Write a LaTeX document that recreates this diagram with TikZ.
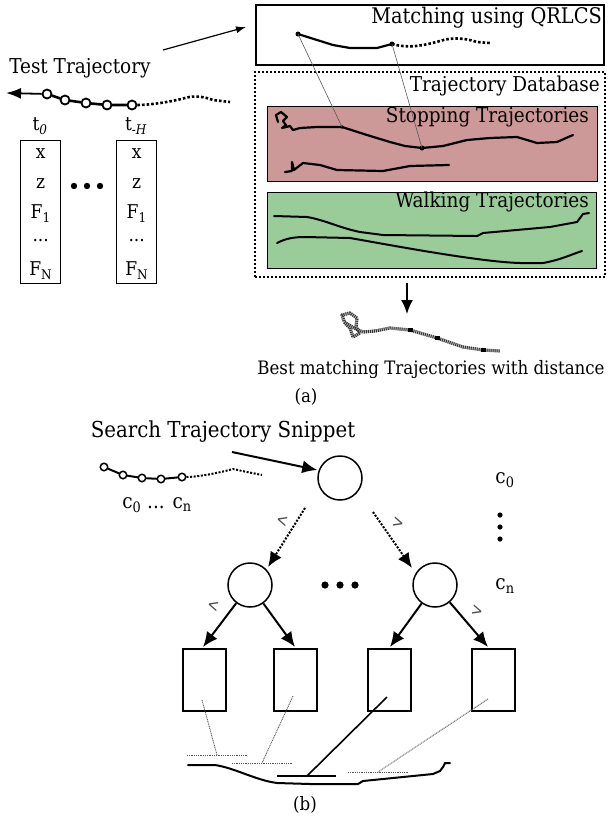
\documentclass[tikz,border=0pt]{standalone}
\usepackage{fontspec}
\setmainfont{DejaVu Serif Condensed}
\usetikzlibrary{arrows.meta,calc}
\definecolor{stoppink}{RGB}{205,152,152}
\definecolor{walkgreen}{RGB}{153,204,153}
\begin{document}
\begin{tikzpicture}[x=1pt,y=-1pt,
  font=\fontsize{20.5}{24}\selectfont,
  traj/.style={line width=2.2pt, line join=round, line cap=round},
  dottraj/.style={line width=2.6pt, dash pattern=on 2.6pt off 2pt},
  tpt/.style={circle, draw, line width=1.8pt, inner sep=0pt, minimum size=9pt, fill=white},
  spt/.style={circle, draw, line width=1.5pt, inner sep=0pt, minimum size=7.5pt, fill=white},
  featbox/.style={draw, line width=1.4pt, minimum width=40pt, minimum height=143pt, anchor=north west, inner sep=0pt},
  feat/.style={inner sep=0pt, font=\fontsize{19}{22}\selectfont},
  leaf/.style={draw, line width=1.6pt, minimum width=43pt, minimum height=62pt, anchor=north west, inner sep=0pt},
  tnode/.style={circle, draw, line width=1.5pt, minimum size=44pt, inner sep=0pt},
  bigarrow/.style={line width=2pt, -{Latex[length=15pt,width=13pt]}},
  dotarrow/.style={line width=2pt, dash pattern=on 2pt off 1.5pt, -{Latex[length=15pt,width=13pt,sep=0pt]}},
  smalllab/.style={font=\fontsize{18}{20}\selectfont, inner sep=0pt, text=black!70, xscale=0.85},
  matchln/.style={line width=0.6pt, gray!70!black},
  leafln/.style={line width=0.9pt, gray!70!black, dash pattern=on 1pt off 0.8pt},
]
\useasboundingbox (0,0) rectangle (609,820);

% ---------------- (a) right side boxes ----------------
\node[draw, line width=2.4pt, minimum width=348pt, minimum height=60pt, anchor=north west, inner sep=0pt] (match) at (255,4) {};
\node[anchor=north east, inner sep=0pt, font=\fontsize{21.5}{25}\selectfont] (matchtxt) at (602,7) {Matching using QRLCS};

\node[draw, line width=2pt, dash pattern=on 2pt off 2pt, minimum width=350pt, minimum height=205pt, anchor=north west, inner sep=0pt] (db) at (254,71) {};
\node[anchor=north east, inner sep=0pt] (dbtxt) at (600,76) {Trajectory Database};

\node[draw, line width=0.8pt, fill=stoppink, minimum width=330pt, minimum height=75pt, anchor=north west, inner sep=0pt] (stop) at (267,106) {};
\node[anchor=north east, inner sep=0pt] (stoptxt) at (589,107) {Stopping Trajectories};

\node[draw, line width=0.8pt, fill=walkgreen, minimum width=329pt, minimum height=76pt, anchor=north west, inner sep=0pt] (walk) at (267,192) {};
\node[anchor=north east, inner sep=0pt] (walktxt) at (589,192) {Walking Trajectories};

% query trajectory in matching box
\coordinate (q0) at (298,34);
\coordinate (q1) at (392,44);
\draw[traj] (q0) -- (317,40) -- (333,45) -- (350,48) -- (377,48) -- (q1);
\draw[dottraj] (q1) .. controls (410,49) and (425,45) .. (440,41) .. controls (452,37) and (465,38) .. (477,42) -- (490,43);
\fill (q0) circle (2.5pt);
\fill (q1) circle (2.5pt);

% stopping trajectories
\coordinate (s0) at (342,127);
\coordinate (s1) at (422,148);
\draw[traj] (278,122) -- (276,115) -- (281,112) -- (287,117) -- (283,121) -- (286,125) -- (282,128) -- (290,126) -- (293,130) -- (300,128) -- (317,127) -- (s0) -- (367,135) -- (390,142) -- (405,146) -- (s1) -- (443,146) -- (467,140) -- (490,138) -- (517,137) -- (537,143) -- (557,142) -- (573,135);
\fill (s0) circle (1.8pt);
\fill (s1) circle (2.5pt);
\draw[traj] (285,172) -- (292,171) -- (292,162) -- (294,170) -- (303,163) -- (320,165) -- (337,170) -- (383,171) -- (410,166) -- (449,165);

\draw[matchln] (q0) -- (s0);
\draw[matchln] (q1) -- (s1);

% walking trajectories
\draw[traj, line width=2pt] (274,216) -- (307,217) .. controls (325,220) and (340,228) .. (360,232) -- (383,235) -- (477,236) -- (483,233) -- (550,227) -- (577,222) -- (583,214) -- (589,213);
\draw[traj, line width=2pt] (277,243) .. controls (285,239) and (292,237) .. (305,237) -- (350,238) .. controls (390,245) and (480,262) .. (520,263) -- (543,263) .. controls (560,260) and (570,255) .. (582,251);

% arrow down to best match
\coordinate (dbout) at (407,283);
\coordinate (bestin) at (407,314);
\draw[line width=1.8pt, -{Latex[length=14pt,width=12pt]}] (dbout) -- (bestin);

% best matching trajectory (textured)
\draw[line width=3.2pt, gray!55, line join=round] (344,321) -- (342,315) -- (350,313) -- (357,318) -- (356,327) -- (360,333) -- (353,337) -- (350,328) -- (344,322) -- (356,329) -- (363,332) -- (375,331) -- (390,328) -- (410,330) -- (437,338) -- (463,347) -- (483,350) -- (500,351);
\draw[line width=3.2pt, black!80, dash pattern=on 0.9pt off 1.1pt, line join=round] (344,321) -- (342,315) -- (350,313) -- (357,318) -- (356,327) -- (360,333) -- (353,337) -- (350,328) -- (344,322) -- (356,329) -- (363,332) -- (375,331) -- (390,328) -- (410,330) -- (437,338) -- (463,347) -- (483,350) -- (500,351);
\fill[black] (408,327.5) rectangle (413,332);
\fill[black] (435,335.5) rectangle (440,340);
\fill[black] (481,347.5) rectangle (486,352);

\node[inner sep=0pt, font=\fontsize{18.5}{22}\selectfont] (besttxt) at (431,370) {Best matching Trajectories with distance};
\node[inner sep=0pt, font=\fontsize{18.5}{22}\selectfont] (capa) at (306,397) {(a)};

% ---------------- (a) left side ----------------
\node[inner sep=0pt] (testtxt) at (80,68) {Test Trajectory};
\coordinate (testfrom) at (163,50);
\coordinate (matchto) at (246,27);
\draw[line width=1.2pt, -{Latex[length=10pt,width=7pt]}] (testfrom) -- (matchto);

\node[tpt] (p1) at (47,94) {};
\node[tpt] (p2) at (65,100) {};
\node[tpt] (p3) at (86,103) {};
\node[tpt] (p4) at (107,105) {};
\node[tpt] (p5) at (132,105) {};
\coordinate (tip) at (6,93);
\draw[traj, line width=2.6pt] (p5) -- (p4) -- (p3) -- (p2) -- (p1);
\draw[line width=1.8pt, -{Latex[length=15pt,width=11pt]}] (p1) -- (tip);
\draw[dottraj] (p5.east) .. controls (150,105) and (170,102) .. (185,98) .. controls (195,95) and (205,97) .. (213,100) -- (230,102);

\node[featbox] (fb0) at (20,140) {};
\node[featbox] (fbH) at (116,140) {};
\node[feat] (t0) at (40,126) {t\textsubscript{\itshape 0}};
\node[feat] (tH) at (136,126) {t\textsubscript{-\itshape H}};
\foreach \b in {fb0,fbH} {
  \node[feat] at ($(\b.north)+(0,14)$) {x};
  \node[feat] at ($(\b.north)+(0,44)$) {z};
  \node[feat] at ($(\b.north)+(0,74)$) {F\textsubscript{1}};
  \node[feat] at ($(\b.north)+(0,101)$) {...};
  \node[feat] at ($(\b.north)+(0,131)$) {F\textsubscript{N}};
}
\foreach \x in {74,87,100} \fill (\x,186) circle (3.2pt);

% ---------------- (b) ----------------
\node[inner sep=0pt, font=\fontsize{22}{26}\selectfont] (searchtxt) at (223,432) {Search Trajectory Snippet};
\node[tnode] (root) at (340,478) {};
\node[tnode] (lc) at (250,585) {};
\node[tnode] (rc) at (435,585) {};
\coordinate (searchfrom) at (232,452);
\draw[bigarrow] (searchfrom) -- (root.west |- 0,470) ;

\node[spt] (c1) at (104,467) {};
\node[spt] (c2) at (123,475) {};
\node[spt] (c3) at (142,478) {};
\node[spt] (c4) at (161,479) {};
\node[spt] (c5) at (182,477) {};
\draw[traj, line width=2pt] (c1) -- (c2) -- (c3) -- (c4) -- (c5);
\draw[line width=2pt, dash pattern=on 2pt off 1.6pt] (c5.east) .. controls (195,477) and (215,474) .. (233,469) -- (247,472) -- (262,475);
\node[inner sep=0pt] (clab) at (157,505) {c\textsubscript{0} ... c\textsubscript{n}};

\coordinate (rootl) at (305,508);
\coordinate (roolr) at (373,512);
\draw[dotarrow] (rootl) -- (268,567);
\draw[dotarrow] (roolr) -- (412,568);
\node[smalllab, rotate=-15] (ltl) at (282,521) {<};
\node[smalllab, rotate=-15] (gtl) at (398,523) {>};

\foreach \x in {325,340,355} \fill (\x,585) circle (3.6pt);

\node[inner sep=0pt] (cz) at (505,480) {c\textsubscript{0}};
\foreach \y in {515,527,539} \fill (500,\y) circle (2.6pt);
\node[inner sep=0pt] (cn) at (505,586) {c\textsubscript{n}};

\node[leaf] (b1) at (182,648) {};
\node[leaf] (b2) at (273,648) {};
\node[leaf] (b3) at (367,648) {};
\node[leaf] (b4) at (471,648) {};

\coordinate (a1) at (203,647);
\coordinate (a2) at (295,647);
\coordinate (a3) at (390,647);
\coordinate (a4) at (488,647);
\draw[bigarrow] (lc) -- (a1);
\draw[bigarrow] (lc) -- (a2);
\draw[bigarrow] (rc) -- (a3);
\draw[bigarrow] (rc) -- (a4);
\node[smalllab, rotate=-15] (ltl2) at (213,606) {<};
\node[smalllab, rotate=-15] (gtl2) at (477,611) {>};

% leaf pointers to trajectory segments
\coordinate (l1) at (202,700);
\coordinate (l2) at (293,696);
\coordinate (l3) at (387,697);
\coordinate (l4) at (488,699);
\coordinate (e1) at (217,755);
\coordinate (e2) at (262,763);
\coordinate (e3) at (307,776);
\coordinate (e4) at (378,772);
\draw[leafln] (l1) -- (e1);
\draw[leafln] (187,755) -- (247,755);
\draw[leafln] (l2) -- (e2);
\draw[leafln] (232,763) -- (292,763);
\draw[line width=1.6pt] (l3) -- (e3);
\draw[line width=1.6pt] (277,776) -- (336,776);
\draw[leafln] (l4) -- (e4);
\draw[leafln] (348,772) -- (409,772);

\draw[traj, line width=2pt] (188,765) -- (215,765) .. controls (235,768) and (255,780) .. (277,783) -- (310,784) -- (358,784) -- (363,781) -- (393,778) -- (433,774) -- (440,771) -- (443,767) -- (445,763) -- (450,763);

\node[inner sep=0pt, font=\fontsize{18.5}{22}\selectfont] (capb) at (305,805) {(b)};
\end{tikzpicture}
\end{document}
